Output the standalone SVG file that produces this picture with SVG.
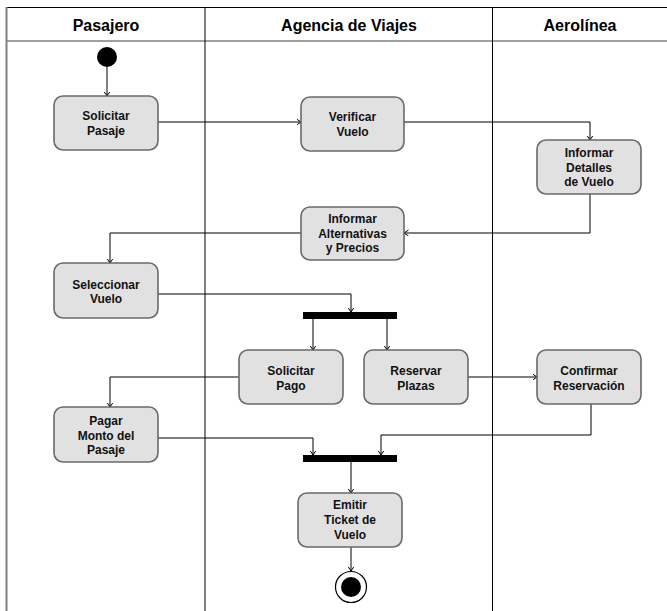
<svg xmlns="http://www.w3.org/2000/svg" width="667" height="611" viewBox="0 0 667 611">
<style>
.lane{stroke:#000;stroke-width:1;fill:none}
.hdr{font-family:"Liberation Sans",Arial,sans-serif;font-weight:bold;font-size:16px;fill:#000;text-anchor:middle}
.box{fill:#e1e1e1;stroke:#6a6a6a;stroke-width:1.6}
.t{font-family:"Liberation Sans",Arial,sans-serif;font-weight:bold;font-size:12px;fill:#111;text-anchor:middle}
.c{stroke:#000;stroke-width:1;fill:none;marker-end:url(#ah)}
.bar{fill:#000}
</style>
<defs>
<marker id="ah" markerUnits="userSpaceOnUse" markerWidth="8" markerHeight="8" refX="4.5" refY="3" orient="auto">
<path d="M0,0 L4.5,3 L0,6" fill="none" stroke="#000" stroke-width="1"/>
</marker>
</defs>
<rect width="667" height="611" fill="#fff"/>
<g id="lanes">
<line x1="6" y1="7.5" x2="667" y2="7.5" class="lane"/>
<line x1="6" y1="41" x2="667" y2="41" stroke="#808080" stroke-width="1.6"/>
<line x1="6.5" y1="7" x2="6.5" y2="611" stroke="#808080" stroke-width="2"/>
<line x1="205" y1="7" x2="205" y2="611" class="lane"/>
<line x1="492.5" y1="7" x2="492.5" y2="611" class="lane"/>
<text x="106" y="31" class="hdr">Pasajero</text>
<text x="349" y="31" class="hdr">Agencia de Viajes</text>
<text x="580" y="31" class="hdr">Aerolínea</text>
</g>
<g id="connectors">
<path d="M107,67 V96" class="c"/>
<path d="M158,122 H301" class="c"/>
<path d="M404,122 H590 V140" class="c"/>
<path d="M590,194 V233 H404" class="c"/>
<path d="M301,233 H110 V263" class="c"/>
<path d="M158,294 H351 V312" class="c"/>
<path d="M313,319 V350" class="c"/>
<path d="M387,319 V350" class="c"/>
<path d="M468,377 H537" class="c"/>
<path d="M239,377 H110 V407" class="c"/>
<path d="M158,438 H313 V455" class="c"/>
<path d="M591,404 V435 H381 V455" class="c"/>
<path d="M351,462 V493" class="c"/>
<path d="M351,547 V571" class="c"/>
</g>
<g id="start"><circle cx="107" cy="57" r="10" fill="#000"/></g>
<g id="solicitarPasaje"><rect x="54" y="96" width="104" height="54" rx="9" class="box"/><text x="106" y="120" class="t">Solicitar</text><text x="106" y="135" class="t">Pasaje</text></g>
<g id="verificarVuelo"><rect x="301" y="97" width="103" height="54" rx="9" class="box"/><text x="352.5" y="121" class="t">Verificar</text><text x="352.5" y="136" class="t">Vuelo</text></g>
<g id="informarDetalles"><rect x="537" y="140" width="104" height="54" rx="9" class="box"/><text x="589" y="157" class="t">Informar</text><text x="589" y="172" class="t">Detalles</text><text x="589" y="186" class="t">de Vuelo</text></g>
<g id="informarAlternativas"><rect x="301" y="207" width="103" height="53" rx="9" class="box"/><text x="352.5" y="223" class="t">Informar</text><text x="352.5" y="238" class="t">Alternativas</text><text x="352.5" y="252" class="t">y Precios</text></g>
<g id="seleccionarVuelo"><rect x="54" y="263" width="104" height="55" rx="9" class="box"/><text x="106" y="289" class="t">Seleccionar</text><text x="106" y="303" class="t">Vuelo</text></g>
<g id="fork"><rect x="303" y="312" width="94" height="7" class="bar"/></g>
<g id="solicitarPago"><rect x="239" y="350" width="104" height="54" rx="9" class="box"/><text x="291" y="375" class="t">Solicitar</text><text x="291" y="390" class="t">Pago</text></g>
<g id="reservarPlazas"><rect x="364" y="350" width="104" height="54" rx="9" class="box"/><text x="416" y="375" class="t">Reservar</text><text x="416" y="390" class="t">Plazas</text></g>
<g id="confirmarReservacion"><rect x="537" y="350" width="104" height="54" rx="9" class="box"/><text x="589" y="375" class="t">Confirmar</text><text x="589" y="390" class="t">Reservación</text></g>
<g id="pagarMonto"><rect x="54" y="407" width="104" height="55" rx="9" class="box"/><text x="106" y="425" class="t">Pagar</text><text x="106" y="440" class="t">Monto del</text><text x="106" y="454" class="t">Pasaje</text></g>
<g id="join"><rect x="303" y="455" width="94" height="7" class="bar"/></g>
<g id="emitirTicket"><rect x="298" y="493" width="104" height="54" rx="9" class="box"/><text x="350" y="509" class="t">Emitir</text><text x="350" y="524" class="t">Ticket de</text><text x="350" y="539" class="t">Vuelo</text></g>
<g id="end"><circle cx="351" cy="587" r="15.5" fill="#fff" stroke="#000" stroke-width="1.2"/><circle cx="351" cy="587" r="10" fill="#000"/></g>
</svg>
